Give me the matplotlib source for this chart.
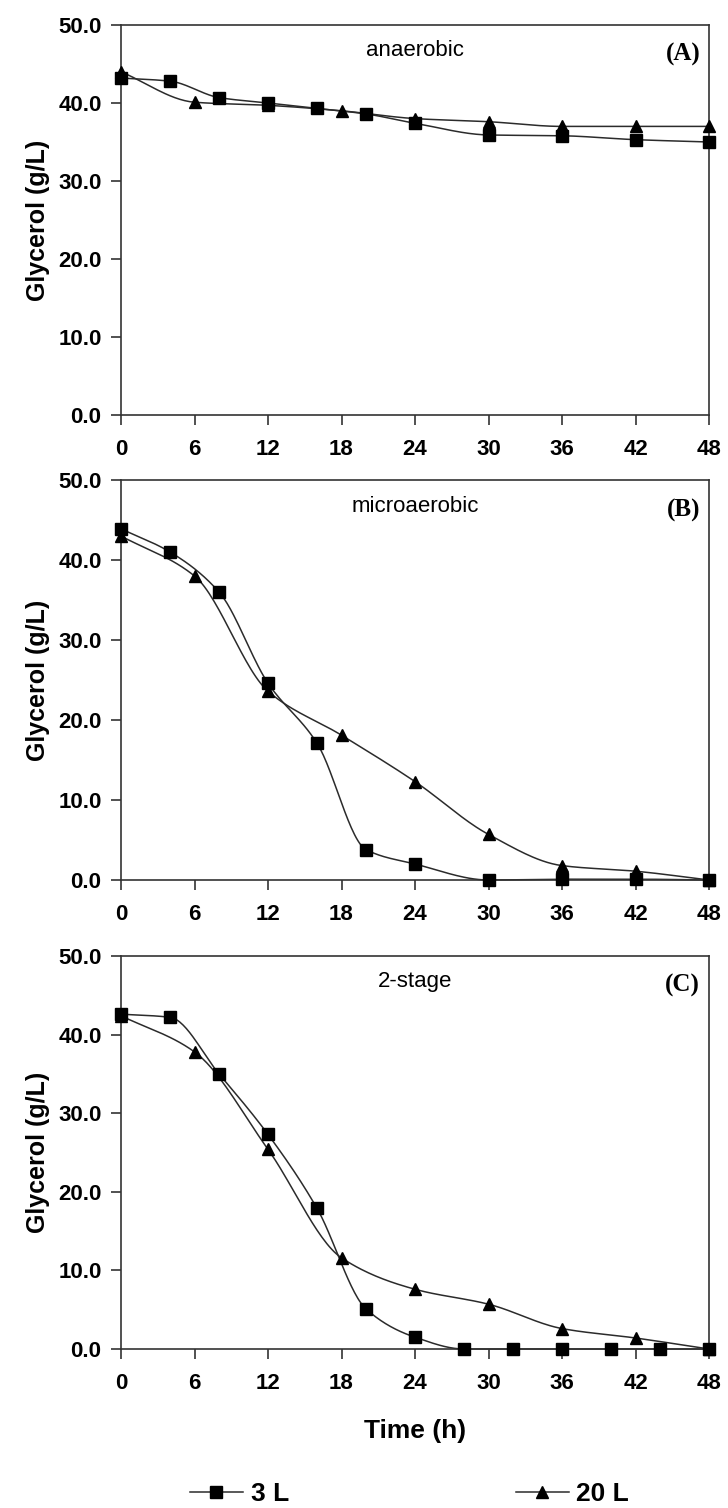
import numpy as np
import matplotlib
matplotlib.use("Agg")
import matplotlib.pyplot as plt
from matplotlib.lines import Line2D

# ---- data -------------------------------------------------------------
# (A) anaerobic
a_t_3L = [0, 4, 8, 12, 16, 20, 24, 30, 36, 42, 48]
a_g_3L = [43.2, 42.8, 40.7, 40.0, 39.3, 38.6, 37.4, 35.9, 35.8, 35.3, 35.0]
a_t_20L = [0, 6, 12, 18, 24, 30, 36, 42, 48]
a_g_20L = [44.0, 40.1, 39.7, 39.0, 38.0, 37.6, 37.0, 37.0, 37.0]

# (B) microaerobic
b_t_3L = [0, 4, 8, 12, 16, 20, 24, 30, 36, 42, 48]
b_g_3L = [43.9, 41.0, 36.0, 24.6, 17.1, 3.8, 2.0, 0.0, 0.1, 0.1, 0.0]
b_t_20L = [0, 6, 12, 18, 24, 30, 36, 42, 48]
b_g_20L = [43.0, 38.0, 23.6, 18.1, 12.3, 5.7, 1.8, 1.1, 0.0]

# (C) 2-stage
c_t_3L = [0, 4, 8, 12, 16, 20, 24, 28, 32, 36, 40, 44, 48]
c_g_3L = [42.6, 42.2, 35.0, 27.3, 17.9, 5.1, 1.5, 0.0, 0.0, 0.0, 0.0, 0.0, 0.0]
c_t_20L = [0, 6, 12, 18, 24, 30, 36, 42, 48]
c_g_20L = [42.4, 37.8, 25.4, 11.6, 7.6, 5.7, 2.6, 1.4, 0.0]

panel_titles = ["anaerobic", "microaerobic", "2-stage"]
panel_tags = ["(A)", "(B)", "(C)"]
series_labels = ["3 L", "20 L"]
x_ticks = [0, 6, 12, 18, 24, 30, 36, 42, 48]
y_ticks = [0, 10, 20, 30, 40, 50]

panels = [
    ((a_t_3L, a_g_3L), (a_t_20L, a_g_20L)),
    ((b_t_3L, b_g_3L), (b_t_20L, b_g_20L)),
    ((c_t_3L, c_g_3L), (c_t_20L, c_g_20L)),
]


def monotone_curve(x, y, n=30):
    """Fritsch-Carlson monotone cubic through the given points."""
    x = np.asarray(x, float)
    y = np.asarray(y, float)
    h = np.diff(x)
    d = np.diff(y) / h
    m = np.zeros_like(y)
    m[0], m[-1] = d[0], d[-1]
    for i in range(1, len(x) - 1):
        if d[i - 1] * d[i] <= 0:
            m[i] = 0.0
        else:
            w1 = 2 * h[i] + h[i - 1]
            w2 = h[i] + 2 * h[i - 1]
            m[i] = (w1 + w2) / (w1 / d[i - 1] + w2 / d[i])
    xs, ys = [], []
    for i in range(len(x) - 1):
        t = np.linspace(0, 1, n, endpoint=(i == len(x) - 2))
        h00 = 2 * t**3 - 3 * t**2 + 1
        h10 = t**3 - 2 * t**2 + t
        h01 = -2 * t**3 + 3 * t**2
        h11 = t**3 - t**2
        xs.append(x[i] + t * h[i])
        ys.append(h00 * y[i] + h10 * h[i] * m[i] + h01 * y[i + 1] + h11 * h[i] * m[i + 1])
    return np.concatenate(xs), np.concatenate(ys)


sans = ["Liberation Sans", "DejaVu Sans"]
serif = ["Liberation Serif", "DejaVu Serif"]
plt.rcParams["font.family"] = sans

W, H = 728, 1508
fig = plt.figure(figsize=(W / 100, H / 100), dpi=100)

left, right = 121, 709
boxes = [(25, 415), (480, 880), (956, 1349)]

line_col = "#2b2b2b"
markers = ["s", "^"]

for k, ((s1, s2), (top, bot)) in enumerate(zip(panels, boxes)):
    ax = fig.add_axes([left / W, 1 - bot / H, (right - left) / W, (bot - top) / H])
    for (t, g), mk in zip((s1, s2), markers):
        xs, ys = monotone_curve(t, g)
        ax.plot(xs, ys, color=line_col, lw=1.1, zorder=2, clip_on=False)
        ax.plot(t, g, ls="none", marker=mk, ms=8 if mk == "s" else 8.5,
                color="black", zorder=3, clip_on=False)
    ax.set_xlim(0, 48)
    ax.set_ylim(0, 50)
    ax.set_xticks(x_ticks)
    ax.set_yticks(y_ticks)
    ax.set_yticklabels([f"{v:.1f}" for v in y_ticks])
    for sp in ax.spines.values():
        sp.set_color("#333333")
        sp.set_linewidth(1.2)
    ax.tick_params(direction="out", length=7, width=1.2, color="#333333",
                   labelsize=16, pad=7)
    ax.tick_params(axis="x", pad=10)
    for lab in ax.get_xticklabels() + ax.get_yticklabels():
        lab.set_fontweight("bold")
    ax.set_ylabel("Glycerol (g/L)", fontsize=18, fontweight="bold", labelpad=6)
    ax.text(0.5, 0.935, panel_titles[k], transform=ax.transAxes, ha="center",
            va="center", fontsize=16)
    ax.text(0.985, 0.925, panel_tags[k], transform=ax.transAxes, ha="right",
            va="center", fontsize=18, fontweight="bold", family=serif)
    if k == 2:
        ax.set_xlabel("Time (h)", fontsize=19, fontweight="bold", labelpad=18)

handles = [
    Line2D([], [], color=line_col, lw=1.1, marker="s", ms=8, mfc="black", mec="black"),
    Line2D([], [], color=line_col, lw=1.1, marker="^", ms=8.5, mfc="black", mec="black"),
]
fig.legend(handles, series_labels, loc="center", bbox_to_anchor=(0.5625, 1 - 1494 / H),
           ncol=2, frameon=False, columnspacing=8.6, handlelength=2.0,
           handletextpad=0.3, prop={"family": sans, "size": 19, "weight": "bold"})

fig.savefig("out.png", dpi=100)
